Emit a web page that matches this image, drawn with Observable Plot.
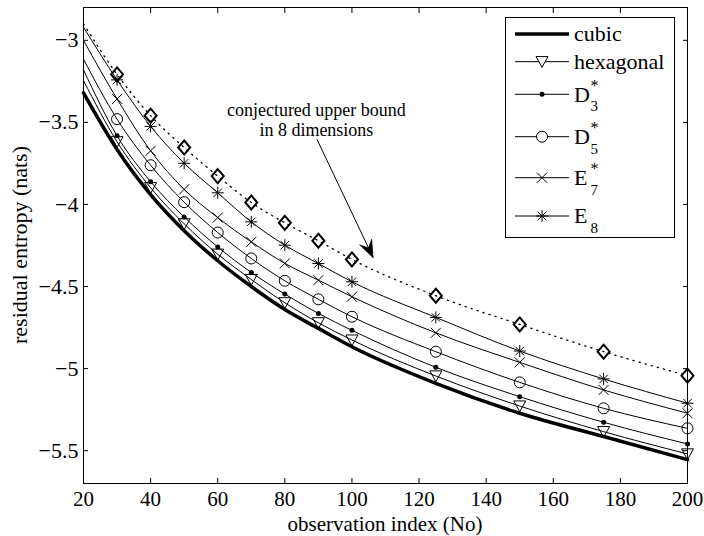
<!DOCTYPE html>
<html>
<head>
<meta charset="utf-8">
<script src="https://cdn.jsdelivr.net/npm/d3@7"></script>
<script src="https://cdn.jsdelivr.net/npm/@observablehq/plot@0.6"></script>
<style>
  body { margin: 0; background: #fff; }
  #chart svg { display: block; }
</style>
</head>
<body>
<div id="chart"></div>
<script>
// ---- data ----
const obsIndex = [20, 30, 40, 50, 60, 70, 80, 90, 100, 125, 150, 175, 200];
const cubic      = [-3.32, -3.665, -3.94, -4.16, -4.343, -4.50, -4.64, -4.755, -4.867, -5.09, -5.272, -5.414, -5.555];
const hexagonal  = [-3.245, -3.618, -3.898, -4.118, -4.303, -4.457, -4.599, -4.721, -4.826, -5.045, -5.228, -5.384, -5.520];
const D3star     = [-3.18, -3.582, -3.861, -4.076, -4.259, -4.414, -4.546, -4.664, -4.767, -4.992, -5.171, -5.327, -5.459];
const D5star     = [-3.115, -3.480, -3.761, -3.986, -4.171, -4.329, -4.465, -4.578, -4.684, -4.897, -5.084, -5.242, -5.364];
const E7star     = [-3.0, -3.357, -3.673, -3.908, -4.08, -4.228, -4.359, -4.461, -4.562, -4.782, -4.962, -5.130, -5.272];
const E8         = [-2.92, -3.241, -3.524, -3.749, -3.929, -4.106, -4.248, -4.36, -4.471, -4.688, -4.893, -5.063, -5.211];
const upperBound8 = [-2.90, -3.208, -3.459, -3.653, -3.827, -3.988, -4.112, -4.221, -4.335, -4.556, -4.731, -4.897, -5.043];

const xTicks = [20, 40, 60, 80, 100, 120, 140, 160, 180, 200];
const yTicks = [-5.5, -5, -4.5, -4, -3.5, -3];

const annotationText = "conjectured upper bound\nin 8 dimensions";
const annotation = [{x: 89.4, y: -3.485}];
const arrowData = [{x1: 89.6, y1: -3.604, x2: 106.3, y2: -4.323}];

const legendNames = ["cubic", "hexagonal", "D", "D", "E", "E"];
const legendSup   = ["", "", "*", "*", "*", ""];
const legendSub   = ["", "", "3", "5", "7", "8"];

// ---- layout ----
const W = 704, H = 536;
const M = {top: 7, right: 17, bottom: 53, left: 83};
const xDomain = [20, 200], yDomain = [-5.7, -2.8];

// ---- symbols (MATLAB-like markers) ----
const triDown = {draw(ctx, size) { const s = Math.sqrt(size / Math.PI);
  ctx.moveTo(-s, -0.85 * s); ctx.lineTo(s, -0.85 * s); ctx.lineTo(0, 0.95 * s); ctx.closePath(); }};
const diamond = {draw(ctx, size) { const s = Math.sqrt(size / Math.PI);
  ctx.moveTo(0, -1.17 * s); ctx.lineTo(s, 0); ctx.lineTo(0, 1.17 * s); ctx.lineTo(-s, 0); ctx.closePath(); }};
const cross = {draw(ctx, size) { const s = Math.sqrt(size / Math.PI);
  ctx.moveTo(-s, -s); ctx.lineTo(s, s); ctx.moveTo(-s, s); ctx.lineTo(s, -s); }};
const star = {draw(ctx, size) { const s = Math.sqrt(size / Math.PI); const d = s * Math.SQRT1_2;
  ctx.moveTo(-s, 0); ctx.lineTo(s, 0); ctx.moveTo(0, -s); ctx.lineTo(0, s);
  ctx.moveTo(-d, -d); ctx.lineTo(d, d); ctx.moveTo(-d, d); ctx.lineTo(d, -d); }};
// filled arrowhead with notched back (tip at the anchor, pointing "up" before rotation)
const arrowHead = {draw(ctx, l) {
  ctx.moveTo(0, 0); ctx.lineTo(-6.5, l); ctx.lineTo(0, 0.62 * l); ctx.lineTo(6.5, l); ctx.closePath(); }};

const rows = (ys) => obsIndex.map((x, i) => ({x, y: ys[i]}));
const pts = (ys) => rows(ys).slice(1);

const font = "'Liberation Serif', 'Times New Roman', Times, serif";
const fmt = d => (d < 0 ? "\u2212" : "") + Math.abs(d);

// arrow direction in pixels, from the same scales the plot uses
const sx = Plot.scale({x: {domain: xDomain, range: [M.left, W - M.right]}});
const sy = Plot.scale({y: {domain: yDomain, range: [H - M.bottom, M.top]}});
const a = arrowData[0];
const adx = sx.apply(a.x2) - sx.apply(a.x1), ady = sy.apply(a.y2) - sy.apply(a.y1);
const arrowAngle = Math.atan2(adx, -ady) * 180 / Math.PI;

const lineOpts = {x: "x", y: "y", stroke: "black", strokeWidth: 1, curve: "monotone-x"};

const plot = Plot.plot({
  width: W, height: H,
  marginTop: M.top, marginRight: M.right, marginBottom: M.bottom, marginLeft: M.left,
  x: {domain: xDomain},
  y: {domain: yDomain},
  style: {fontFamily: font, fontSize: "22px", background: "white", color: "black"},
  marks: [
    Plot.axisX({anchor: "bottom", ticks: xTicks, tickSize: -5, tickPadding: 13, tickFormat: d => String(d), label: null, fontSize: 21}),
    Plot.axisX({anchor: "top", ticks: xTicks, tickSize: -5, tickFormat: () => "", label: null}),
    Plot.axisY({anchor: "left", ticks: yTicks, tickSize: -5, tickPadding: 10, tickFormat: fmt, label: null, fontSize: 22}),
    Plot.axisY({anchor: "right", ticks: yTicks, tickSize: -5, tickFormat: () => "", label: null}),
    // curves
    Plot.line(rows(upperBound8), {x: "x", y: "y", stroke: "black", strokeWidth: 1.3, strokeDasharray: "1.3 5", curve: "monotone-x"}),
    Plot.line(rows(E8), lineOpts),
    Plot.line(rows(E7star), lineOpts),
    Plot.line(rows(D5star), lineOpts),
    Plot.line(rows(D3star), lineOpts),
    Plot.line(rows(hexagonal), lineOpts),
    Plot.line(rows(cubic), {...lineOpts, strokeWidth: 3.5}),
    // markers
    Plot.dot(pts(upperBound8), {x: "x", y: "y", symbol: diamond, r: 6, stroke: "black", strokeWidth: 2, fill: "none"}),
    Plot.dot(pts(E8), {x: "x", y: "y", symbol: star, r: 6, stroke: "black", strokeWidth: 1, fill: "none"}),
    Plot.dot(pts(E7star), {x: "x", y: "y", symbol: cross, r: 5, stroke: "black", strokeWidth: 1, fill: "none"}),
    Plot.dot(pts(D5star), {x: "x", y: "y", r: 5.5, stroke: "black", strokeWidth: 1, fill: "none"}),
    Plot.dot(pts(D3star), {x: "x", y: "y", r: 2.5, fill: "black", stroke: "none"}),
    Plot.dot(pts(hexagonal), {x: "x", y: "y", symbol: triDown, r: 6, stroke: "black", strokeWidth: 1, fill: "none"}),
    // annotation: shaft + filled head
    Plot.link(arrowData, {x1: "x1", y1: "y1", x2: "x2", y2: "y2", stroke: "black", strokeWidth: 1}),
    Plot.vector(arrowData, {x: "x2", y: "y2", length: 17, rotate: arrowAngle, anchor: "start", shape: arrowHead,
      fill: "black", stroke: "black", strokeWidth: 0.6}),
    Plot.text(annotation, {x: "x", y: "y", text: () => annotationText, fontSize: 18, lineHeight: 1.07, textAnchor: "middle", fill: "black"}),
    Plot.frame({stroke: "black", strokeWidth: 1})
  ]
});

document.getElementById("chart").appendChild(plot);

// ---- axis titles and legend (drawn into the same SVG) ----
const svg = d3.select(plot);
svg.append("text").attr("x", (M.left + W - M.right) / 2).attr("y", 531).attr("text-anchor", "middle")
  .attr("font-family", font).attr("font-size", 21).attr("fill", "black")
  .text("observation index (No)");
svg.append("text").attr("transform", `translate(27,${(M.top + H - M.bottom) / 2}) rotate(-90)`).attr("text-anchor", "middle")
  .attr("font-family", font).attr("font-size", 22).attr("fill", "black")
  .text("residual entropy (nats)");

const lg = svg.append("g").attr("text-anchor", "start");
lg.append("rect").attr("x", 505.5).attr("y", 17.5).attr("width", 169).attr("height", 220)
  .attr("fill", "white").attr("stroke", "black").attr("stroke-width", 1);
const entryY = [34, 61.7, 94.3, 136.7, 177.7, 216];
const legendSymbols = [null, {t: triDown, r: 6}, {t: "dot", r: 2.5}, {t: d3.symbolCircle, r: 5.5}, {t: cross, r: 5}, {t: star, r: 6}];
entryY.forEach((y, i) => {
  lg.append("line").attr("x1", 515).attr("x2", 569).attr("y1", y).attr("y2", y)
    .attr("stroke", "black").attr("stroke-width", i === 0 ? 3.5 : 1);
  const s = legendSymbols[i];
  if (s) {
    if (s.t === "dot") {
      lg.append("circle").attr("cx", 542).attr("cy", y).attr("r", s.r).attr("fill", "black");
    } else {
      lg.append("path").attr("transform", `translate(542,${y})`)
        .attr("d", d3.symbol(s.t, Math.PI * s.r * s.r)())
        .attr("fill", "white").attr("stroke", "black").attr("stroke-width", 1);
    }
  }
  const base = y + 7.3;
  lg.append("text").attr("x", 574).attr("y", base).attr("text-anchor", "start").attr("font-family", font).attr("font-size", 22)
    .attr("fill", "black").text(legendNames[i]);
  if (legendSup[i]) lg.append("text").attr("x", 590.5).attr("y", base - 11).attr("text-anchor", "start").attr("font-family", font)
    .attr("font-size", 16).attr("fill", "black").text(legendSup[i]);
  if (legendSub[i]) lg.append("text").attr("x", 590.5).attr("y", base + 9.5).attr("text-anchor", "start").attr("font-family", font)
    .attr("font-size", 15).attr("fill", "black").text(legendSub[i]);
});
</script>
</body>
</html>
